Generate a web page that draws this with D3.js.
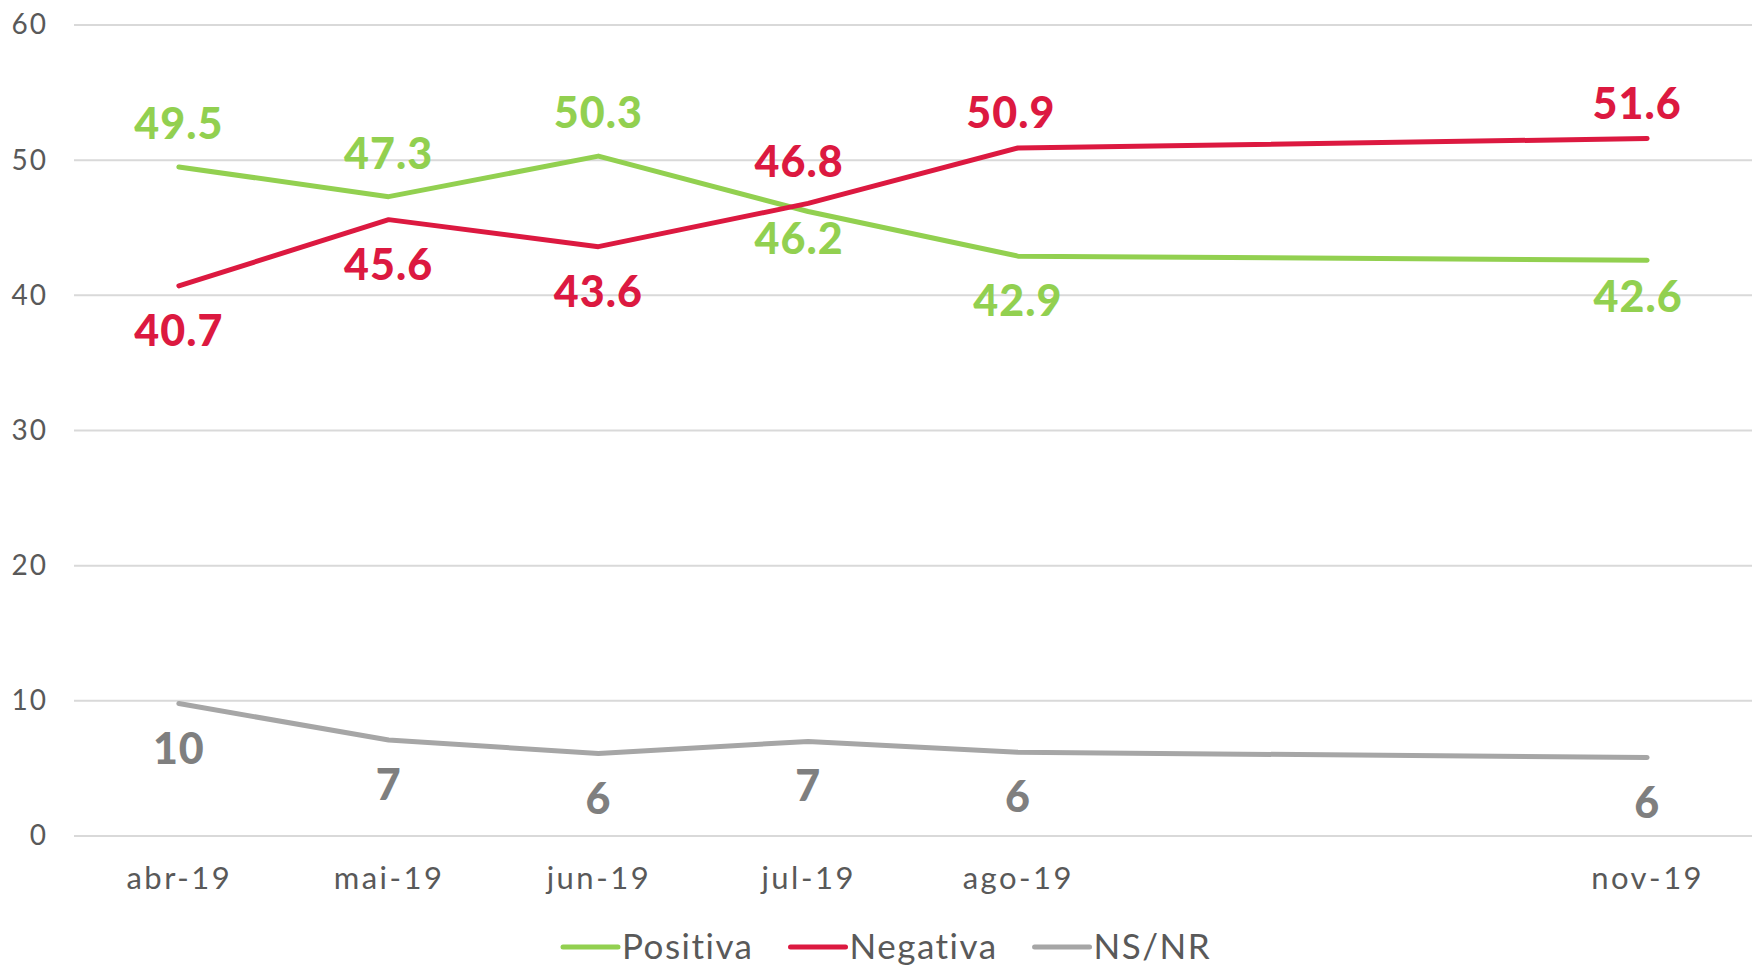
<!DOCTYPE html>
<html>
<head>
<meta charset="utf-8">
<script src="https://cdn.jsdelivr.net/npm/d3@7"></script>
<style>
  body { margin: 0; background: #fff; }
  svg { display: block; font-family: Lato, "Open Sans", sans-serif; }
</style>
</head>
<body>
<svg id="plot"></svg>
<script>
// data
const months = ["abr-19", "mai-19", "jun-19", "jul-19", "ago-19", "nov-19"];
const monthIndex = [0, 1, 2, 3, 4, 7];   // abr..nov, sep/out without data
const positiva = [49.5, 47.3, 50.3, 46.2, 42.9, 42.6];
const negativa = [40.7, 45.6, 43.6, 46.8, 50.9, 51.6];
const nsnr = [9.8, 7.1, 6.1, 7.0, 6.2, 5.8];
const yTicks = [0, 10, 20, 30, 40, 50, 60];

// where each value label sits relative to its point
const posSide = ["above", "above", "above", "below", "below", "below"];
const negSide = ["below", "below", "below", "above", "above", "above"];
const nsSide = ["below", "below", "below", "below", "below", "below"];
// small hand nudges [dx, dy] of some labels, like in the original
const posNudge = [[0, 0], [0, 0], [0, 0], [-9, -18], [0, 0], [-9, -8]];
const negNudge = [[0, 0], [0, 0], [0, 0], [-9, 2], [-7, 8], [-10, 8]];
const nsNudge = [[0, 0], [0, 0], [0, 0], [0, 0], [0, 0], [0, 0]];

const W = 1755, H = 973;
const margin = {top: 25, right: 3, bottom: 137, left: 74};

const svg = d3.select("#plot").attr("width", W).attr("height", H);

const x = d3.scaleLinear().domain([-0.5, 7.5]).range([margin.left, W - margin.right]);
const y = d3.scaleLinear().domain([0, 60]).range([H - margin.bottom, margin.top]);

// gridlines
svg.append("g")
  .selectAll("line")
  .data(yTicks)
  .join("line")
  .attr("x1", margin.left).attr("x2", W - margin.right)
  .attr("y1", d => y(d)).attr("y2", d => y(d))
  .attr("stroke", "#d9d9d9").attr("stroke-width", 2);

// y axis labels
const yAxis = d3.axisLeft(y).tickValues(yTicks).tickSize(0).tickPadding(0);
svg.append("g")
  .attr("transform", "translate(48,0)")
  .call(yAxis)
  .call(g => g.select(".domain").remove())
  .call(g => g.selectAll(".tick text")
    .attr("font-family", "Lato, sans-serif")
    .attr("font-size", 28)
    .attr("letter-spacing", 2)
    .attr("fill", "#595959"));

// x axis labels
const xAxis = d3.axisBottom(x).tickValues(monthIndex)
  .tickFormat((d, i) => months[i]).tickSize(0).tickPadding(0);
svg.append("g")
  .attr("transform", "translate(0," + (y(0) + 31) + ")")
  .call(xAxis)
  .call(g => g.select(".domain").remove())
  .call(g => g.selectAll(".tick text")
    .attr("font-family", "Lato, sans-serif")
    .attr("font-size", 31)
    .attr("letter-spacing", 2.5)
    .attr("fill", "#595959"));

const series = [
  {name: "Positiva", values: positiva, side: posSide, nudge: posNudge, color: "#92d050", label: "#92d050", fmt: d3.format(".1f")},
  {name: "Negativa", values: negativa, side: negSide, nudge: negNudge, color: "#dc1940", label: "#dc1940", fmt: d3.format(".1f")},
  {name: "NS/NR", values: nsnr, side: nsSide, nudge: nsNudge, color: "#a6a6a6", label: "#7f7f7f", fmt: d3.format(".0f")}
];

const line = d3.line()
  .x((d, i) => x(monthIndex[i]))
  .y(d => y(d));

// draw NS/NR first, then positiva, negativa on top
[series[2], series[0], series[1]].forEach(s => {
  svg.append("path")
    .datum(s.values)
    .attr("d", line)
    .attr("fill", "none")
    .attr("stroke", s.color)
    .attr("stroke-width", 5)
    .attr("stroke-linecap", "round")
    .attr("stroke-linejoin", "round");
});

series.forEach(s => {
  svg.append("g")
    .selectAll("text")
    .data(s.values)
    .join("text")
    .attr("x", (d, i) => x(monthIndex[i]) + s.nudge[i][0])
    .attr("y", (d, i) => y(d) + (s.side[i] === "above" ? -28 : 60) + s.nudge[i][1])
    .attr("text-anchor", "middle")
    .attr("font-family", "Lato, sans-serif")
    .attr("font-weight", 900)
    .attr("font-size", 43)
    .attr("letter-spacing", 1)
    .attr("fill", s.label)
    .text(d => s.fmt(d));
});

// legend
const legend = svg.append("g").attr("transform", "translate(563,947)");
let lx = 0;
series.forEach(s => {
  const g = legend.append("g").attr("transform", "translate(" + lx + ",0)");
  g.append("line")
    .attr("x1", 0).attr("x2", 55)
    .attr("stroke", s.color).attr("stroke-width", 5).attr("stroke-linecap", "round");
  const t = g.append("text")
    .attr("x", 59).attr("y", 12)
    .attr("font-family", "Lato, sans-serif")
    .attr("font-size", 35)
    .attr("letter-spacing", 1.5)
    .attr("fill", "#595959")
    .text(s.name);
  lx += 59 + t.node().getComputedTextLength() + 37;
});
</script>
</body>
</html>
